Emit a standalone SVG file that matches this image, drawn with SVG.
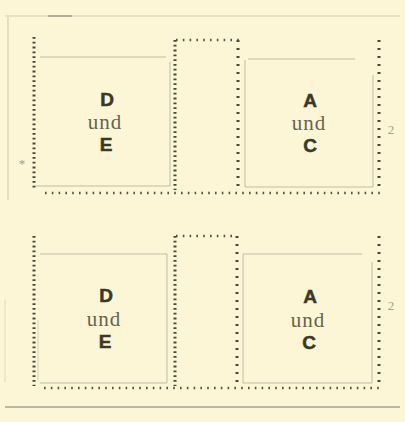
<svg xmlns="http://www.w3.org/2000/svg" width="405" height="422" viewBox="0 0 405 422">
<style>
.bg{fill:#fcf6d6}
.pg{stroke:#d3cdb0;stroke-width:1.2;fill:none}
.fr{stroke:#b9b6a2;stroke-width:0.9;fill:none}
.pv{stroke:#4a473c;stroke-width:3;stroke-dasharray:1.8 3;fill:none}
.pv2{stroke:#4a473c;stroke-width:3;stroke-dasharray:2 6;fill:none}
.ph{stroke:#555246;stroke-width:2.6;stroke-dasharray:1.6 5.2;fill:none}
.cap{font-family:"Liberation Sans",Arial,sans-serif;font-weight:bold;font-size:19px;fill:#3b3828;stroke:#3b3828;stroke-width:0.5;text-anchor:middle}
.und{font-family:"Liberation Serif","Times New Roman",serif;font-size:21px;fill:#66634f;text-anchor:middle;letter-spacing:1px}
.note{font-family:"Liberation Serif","Times New Roman",serif;font-size:13px;fill:#a3a090;text-anchor:middle}
</style>
<rect class="bg" x="0" y="0" width="405" height="422"/>
<g id="page">
<line class="pg" x1="5" y1="16" x2="400" y2="16"/>
<line x1="48" y1="16" x2="72" y2="16" stroke="#8d8a7a" stroke-width="1.2"/>
<line class="pg" x1="8" y1="17" x2="8" y2="200"/>
<line class="pg" x1="5" y1="300" x2="5" y2="382" stroke-opacity="0.6"/>
<line x1="5" y1="407" x2="400" y2="407" stroke="#a5a292" stroke-width="1.3"/>
<text class="note" x="22" y="168">*</text>
<text class="note" x="391" y="134">2</text>
<text class="note" x="391" y="310">2</text>
</g>
<g id="perforations">
<line class="pv" x1="34" y1="37" x2="34" y2="188"/>
<line class="pv" x1="175" y1="40" x2="175" y2="190"/>
<line class="pv2" x1="238" y1="40" x2="238" y2="190"/>
<line class="pv2" x1="379" y1="40" x2="379" y2="190"/>
<line class="ph" x1="176" y1="40" x2="240" y2="40"/>
<line class="ph" x1="45" y1="193" x2="382" y2="193"/>
<line class="pv" x1="34" y1="236" x2="34" y2="386"/>
<line class="pv" x1="175" y1="236" x2="175" y2="386"/>
<line class="pv2" x1="237" y1="236" x2="237" y2="386"/>
<line class="pv2" x1="379" y1="236" x2="379" y2="386"/>
<line class="ph" x1="176" y1="236" x2="236" y2="236"/>
<line class="ph" x1="44" y1="388" x2="382" y2="388"/>
</g>
<g id="stamp-DE-1">
<polyline class="fr" points="40,57 166,57"/>
<polyline class="fr" points="170,62 170,186 35,186"/>
<text class="cap" x="107" y="106">D</text>
<text class="und" x="105" y="129">und</text>
<text class="cap" x="106" y="151">E</text>
</g>
<g id="stamp-AC-1">
<polyline class="fr" points="355,59 248,59"/>
<polyline class="fr" points="245,60 245,187 373,187 373,75"/>
<text class="cap" x="310" y="107">A</text>
<text class="und" x="309" y="130">und</text>
<text class="cap" x="310" y="152">C</text>
</g>
<g id="stamp-DE-2">
<polyline class="fr" points="40,254 167,254 167,383 40,383"/>
<polyline class="fr" points="38,320 38,380" stroke-opacity="0.6"/>
<text class="cap" x="106" y="302">D</text>
<text class="und" x="104" y="326">und</text>
<text class="cap" x="105" y="348">E</text>
</g>
<g id="stamp-AC-2">
<polyline class="fr" points="362,254 243,254 243,383 372,383 372,262"/>
<text class="cap" x="310" y="303">A</text>
<text class="und" x="308" y="327">und</text>
<text class="cap" x="309" y="349">C</text>
</g>
</svg>
